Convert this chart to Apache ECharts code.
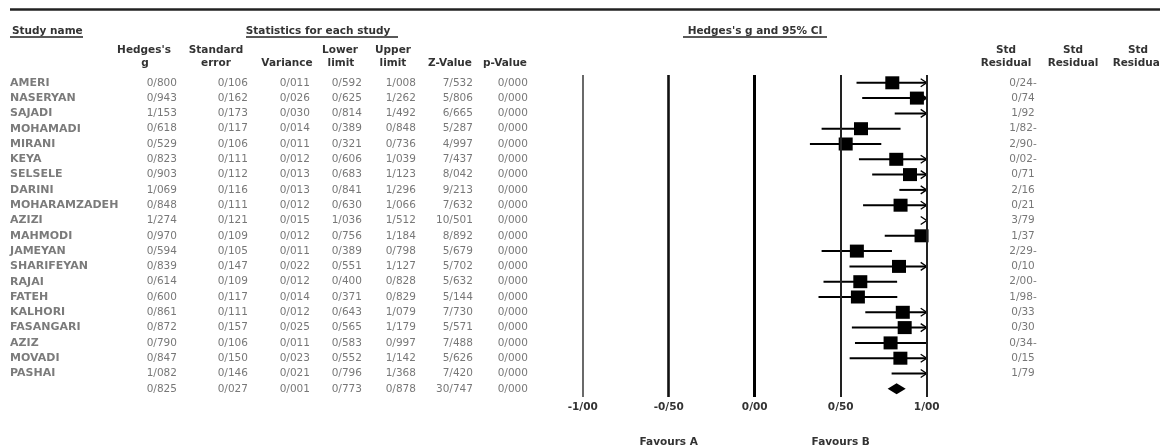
<!DOCTYPE html>
<html>
<head>
<meta charset="utf-8">
<script src="https://cdn.jsdelivr.net/npm/echarts@6/dist/echarts.min.js"></script>
<style>html,body{margin:0;padding:0;background:#fff}#c{width:1160px;height:446px}</style>
</head>
<body>
<div id="c"></div>
<script>
// ---------- data ----------
const studyNames = ['AMERI','NASERYAN','SAJADI','MOHAMADI','MIRANI','KEYA','SELSELE','DARINI','MOHARAMZADEH','AZIZI','MAHMODI','JAMEYAN','SHARIFEYAN','RAJAI','FATEH','KALHORI','FASANGARI','AZIZ','MOVADI','PASHAI'];
const hedgesG  = [0.800,0.943,1.153,0.618,0.529,0.823,0.903,1.069,0.848,1.274,0.970,0.594,0.839,0.614,0.600,0.861,0.872,0.790,0.847,1.082];
const stdError = [0.106,0.162,0.173,0.117,0.106,0.111,0.112,0.116,0.111,0.121,0.109,0.105,0.147,0.109,0.117,0.111,0.157,0.106,0.150,0.146];
const variance = [0.011,0.026,0.030,0.014,0.011,0.012,0.013,0.013,0.012,0.015,0.012,0.011,0.022,0.012,0.014,0.012,0.025,0.011,0.023,0.021];
const lowerLimit = [0.592,0.625,0.814,0.389,0.321,0.606,0.683,0.841,0.630,1.036,0.756,0.389,0.551,0.400,0.371,0.643,0.565,0.583,0.552,0.796];
const upperLimit = [1.008,1.262,1.492,0.848,0.736,1.039,1.123,1.296,1.066,1.512,1.184,0.798,1.127,0.828,0.829,1.079,1.179,0.997,1.142,1.368];
const zValue = [7.532,5.806,6.665,5.287,4.997,7.437,8.042,9.213,7.632,10.501,8.892,5.679,5.702,5.632,5.144,7.730,5.571,7.488,5.626,7.420];
const pValue = [0,0,0,0,0,0,0,0,0,0,0,0,0,0,0,0,0,0,0,0];
const stdResidual = [-0.24,0.74,1.92,-1.82,-2.90,-0.02,0.71,2.16,0.21,3.79,1.37,-2.29,0.10,-2.00,-1.98,0.33,0.30,-0.34,0.15,1.79];
// summary row: g, se, variance, lower, upper, z, p
const summaryStats = [0.825,0.027,0.001,0.773,0.878,30.747,0.000];
const axisTicks = [-1.0,-0.5,0.0,0.5,1.0];

// ---------- layout ----------
const ROW0 = 82.8, ROWH = 15.3;
const rv = px => (px - ROW0) / ROWH;
const PL = 582.7, PW = 344, PT = 75, PB = 397;
const FONT = 'DejaVu Sans';
const fmt = (v, d) => v.toFixed(d).replace('.', '/');
const fmtRes = v => Math.abs(v).toFixed(2).replace('.', '/') + (v < 0 ? '-' : '');
const nRows = studyNames.length;
const xAt = v => PL + PW * (v + 1) / 2;

const lineW = [1.6, 2.6, 3, 2, 2];
const lineC = ['#444', '#111', '#000', '#222', '#222'];

const tableCols = [
  {arr: hedgesG, x: 177, d: 3, s: 0},
  {arr: stdError, x: 248, d: 3, s: 1},
  {arr: variance, x: 310, d: 3, s: 2},
  {arr: lowerLimit, x: 362, d: 3, s: 3},
  {arr: upperLimit, x: 416, d: 3, s: 4},
  {arr: zValue, x: 473, d: 3, s: 5},
  {arr: pValue, x: 528, d: 3, s: 6}
];

const series = [];
// vertical reference lines
series.push({
  type: 'scatter', xAxisIndex: 0, yAxisIndex: 0, data: [], silent: true,
  markLine: {
    symbol: 'none', silent: true, label: {show: false}, animation: false,
    data: axisTicks.map((t, k) => ({xAxis: t, lineStyle: {type: 'solid', width: lineW[k], color: lineC[k]}}))
  }
});
// CI lines, squares, arrows
series.push({
  type: 'custom', xAxisIndex: 0, yAxisIndex: 0, clip: false,
  data: hedgesG.map((v, i) => [v, i, lowerLimit[i], upperLimit[i]]),
  encode: {x: 0, y: 1},
  renderItem: (params, api) => {
    const gv = api.value(0), y = api.value(1), lo = api.value(2), hi = api.value(3);
    const XM = 1.0;
    const ch = [];
    const pHi = api.coord([Math.min(hi, XM), y]);
    if (lo < XM) {
      const pLo = api.coord([lo, y]);
      ch.push({type: 'line', shape: {x1: pLo[0], y1: pLo[1], x2: pHi[0], y2: pHi[1]}, style: {stroke: '#000', lineWidth: 2}});
    }
    if (hi > XM) {
      ch.push({type: 'polyline', shape: {points: [[pHi[0] - 6, pHi[1] - 4], [pHi[0], pHi[1]], [pHi[0] - 6, pHi[1] + 4]]}, style: {stroke: '#000', lineWidth: 1.3, fill: null}});
    }
    if (gv <= XM) {
      const c = api.coord([gv, y]);
      ch.push({type: 'rect', shape: {x: c[0] - 7, y: c[1] - 6.5, width: 14, height: 13}, style: {fill: '#000'}});
    }
    return {type: 'group', children: ch};
  }
});
// summary diamond
series.push({
  type: 'custom', xAxisIndex: 0, yAxisIndex: 0, clip: false,
  data: [[summaryStats[0], nRows, summaryStats[3], summaryStats[4]]],
  encode: {x: 0, y: 1},
  renderItem: (params, api) => {
    const y = api.value(1);
    const c = api.coord([api.value(0), y]);
    const l = api.coord([api.value(2), y]);
    const r = api.coord([api.value(3), y]);
    return {type: 'polygon', shape: {points: [[l[0], l[1]], [c[0], c[1] - 5.5], [r[0], r[1]], [c[0], c[1] + 5.5]]}, style: {fill: '#000'}};
  }
});

const cellLabel = {fontFamily: FONT, fontSize: 10.5, color: '#555'};
// study names
series.push({
  type: 'scatter', xAxisIndex: 1, yAxisIndex: 1, symbolSize: 0.1, itemStyle: {color: 'rgba(0,0,0,0)'}, silent: true,
  data: studyNames.map((n, i) => [10, i]),
  label: {show: true, position: 'right', distance: 0, formatter: p => studyNames[p.dataIndex], fontFamily: FONT, fontSize: 11, fontWeight: 'bold', color: '#5a5a5a'}
});
// numeric columns
tableCols.forEach(col => {
  const vals = col.arr.concat([summaryStats[col.s]]);
  series.push({
    type: 'scatter', xAxisIndex: 1, yAxisIndex: 1, symbolSize: 0.1, itemStyle: {color: 'rgba(0,0,0,0)'}, silent: true,
    data: vals.map((v, i) => [col.x, i]),
    label: Object.assign({show: true, position: 'left', distance: 0, formatter: p => fmt(vals[p.dataIndex], col.d)}, cellLabel)
  });
});
// residual column
series.push({
  type: 'scatter', xAxisIndex: 1, yAxisIndex: 1, symbolSize: 0.1, itemStyle: {color: 'rgba(0,0,0,0)'}, silent: true,
  data: stdResidual.map((v, i) => [1023, i]),
  label: Object.assign({show: true, position: 'inside', align: 'center', formatter: p => fmtRes(stdResidual[p.dataIndex])}, cellLabel)
});

// headers
const HF = 'bold 10.5px "DejaVu Sans"';
const txt = (t, x, y, align) => ({type: 'text', silent: true, style: {text: t, x: x, y: y, font: HF, fill: '#333', textAlign: align, align: align, textVerticalAlign: 'middle', verticalAlign: 'middle'}});
const hline = (x1, x2, y, w) => ({type: 'line', silent: true, shape: {x1: x1, y1: y, x2: x2, y2: y}, style: {stroke: '#222', lineWidth: w}});
const graphics = [
  hline(10, 1160, 9.5, 2.6),
  txt('Study name', 12, 31, 'left'), hline(10, 83, 37, 1.4),
  txt('Statistics for each study', 318, 31, 'center'), hline(246, 398, 37, 1.4),
  txt("Hedges's g and 95% CI", 755, 31, 'center'), hline(683, 827, 37, 1.4),
  txt("Hedges's", 144, 50, 'center'), txt('g', 145, 63.5, 'center'),
  txt('Standard', 216, 50, 'center'), txt('error', 216, 63.5, 'center'),
  txt('Variance', 287, 63.5, 'center'),
  txt('Lower', 340, 50, 'center'), txt('limit', 341, 63.5, 'center'),
  txt('Upper', 393, 50, 'center'), txt('limit', 393, 63.5, 'center'),
  txt('Z-Value', 450, 63.5, 'center'), txt('p-Value', 505, 63.5, 'center'),
  txt('Std', 1006, 50, 'center'), txt('Residual', 1006, 63.5, 'center'),
  txt('Std', 1073, 50, 'center'), txt('Residual', 1073, 63.5, 'center'),
  txt('Std', 1138, 50, 'center'), txt('Residual', 1138, 63.5, 'center'),
  txt('Favours A', xAt(-0.5), 442, 'center'),
  txt('Favours B', xAt(0.5), 442, 'center')
];

const chart = echarts.init(document.getElementById('c'), null, {renderer: 'canvas'});
chart.setOption({
  animation: false,
  backgroundColor: '#fff',
  grid: [
    {left: PL, top: PT, width: PW, height: PB - PT, containLabel: false},
    {left: 0, top: 0, width: 1160, height: 446, containLabel: false}
  ],
  xAxis: [
    {type: 'value', gridIndex: 0, min: -1, max: 1, interval: 0.5,
     axisLine: {show: false}, axisTick: {show: false}, splitLine: {show: false},
     axisLabel: {show: true, margin: 5, formatter: v => fmt(v, 2), fontFamily: FONT, fontSize: 10.5, fontWeight: 'bold', color: '#333'}},
    {type: 'value', gridIndex: 1, min: 0, max: 1160, show: false}
  ],
  yAxis: [
    {type: 'value', gridIndex: 0, min: rv(PT), max: rv(PB), inverse: true, show: false},
    {type: 'value', gridIndex: 1, min: rv(0), max: rv(446), inverse: true, show: false}
  ],
  graphic: graphics,
  series: series
});
</script>
</body>
</html>
